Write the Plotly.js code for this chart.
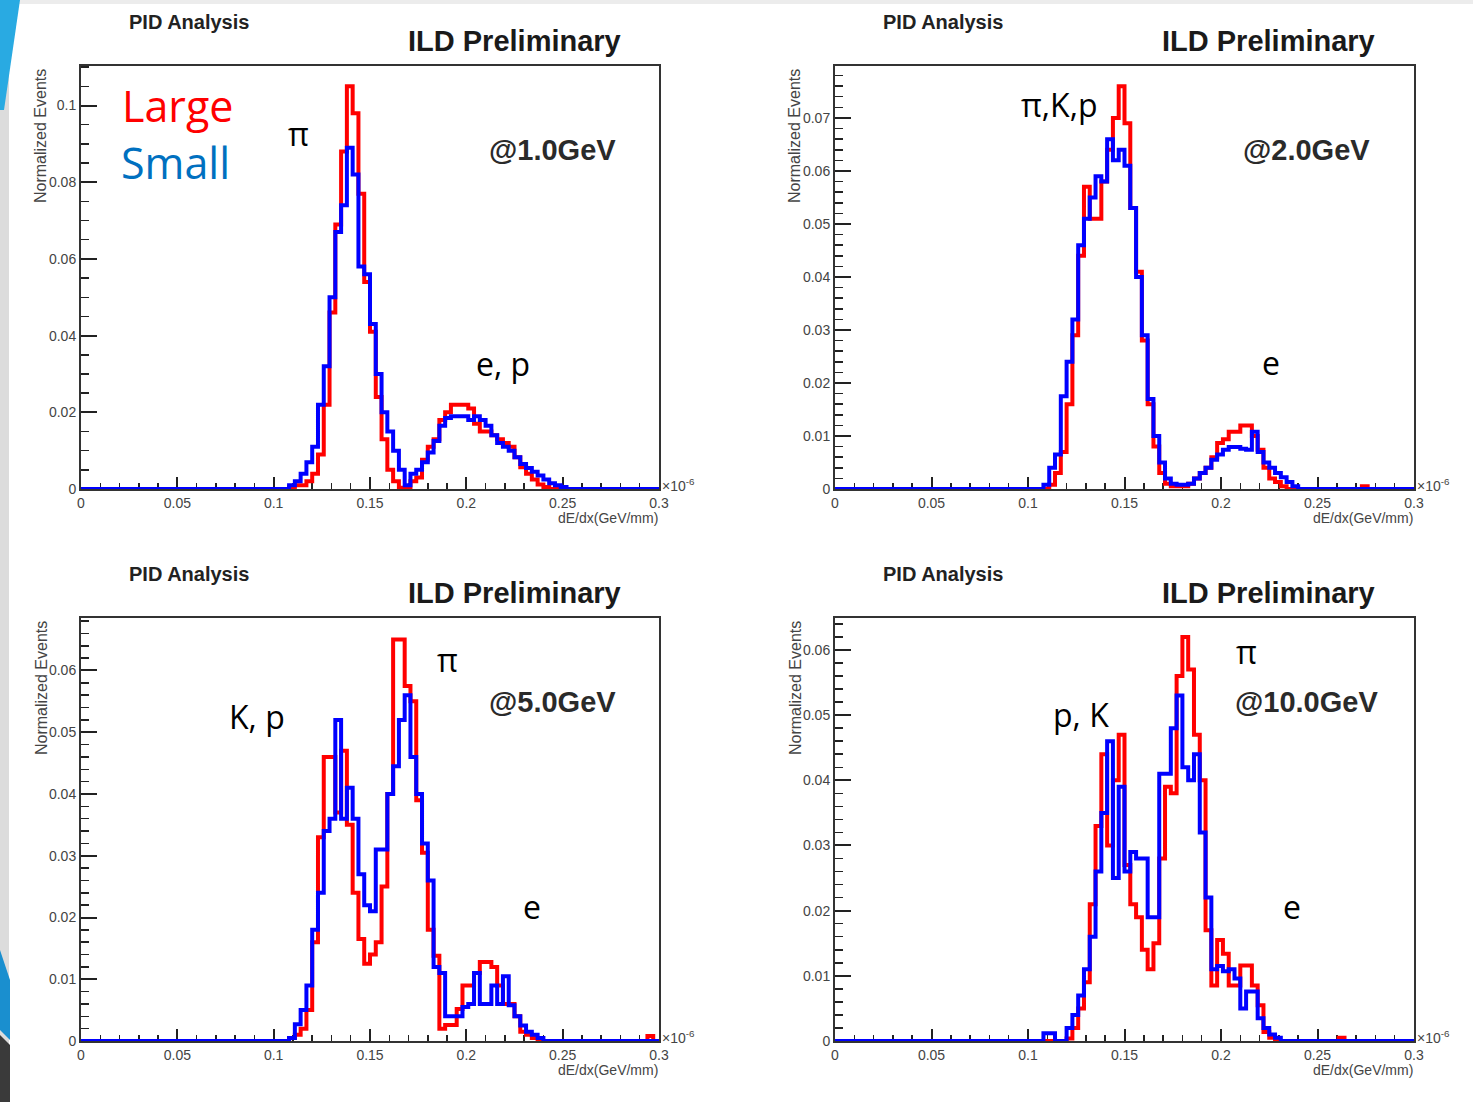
<!DOCTYPE html>
<html>
<head>
<meta charset="utf-8">
<script src="https://cdn.plot.ly/plotly-3.0.1.min.js"></script>
<style>
html,body{margin:0;padding:0;background:#fff;}
#chart{width:1473px;height:1102px;}
</style>
</head>
<body>
<div id="chart"></div>
<script>
// ---- histogram binning: 100 bins from 0 to 0.3 (x 10^-6 GeV/mm) ----
const xMin = 0, xMax = 0.3, nBins = 100;

// ---- bin contents (normalized events), index = bin number 0..99 ----
const large1GeV = [
 0,0,0,0,0,0,0,0,0,0, 0,0,0,0,0,0,0,0,0,0, 0,0,0,0,0,0,0,0,0,0,
 0,0,0,0,0,0,0.0005,0.001,0.001,0.002,
 0.004,0.009,0.022,0.046,0.069,0.088,0.105,0.098,0.077,0.054,
 0.041,0.024,0.013,0.005,0.002,0.0003,0.0003,0.002,0.003,0.0076,
 0.011,0.013,0.018,0.020,0.022,0.022,0.022,0.021,0.017,0.015,
 0.015,0.014,0.013,0.012,0.011,0.0083,0.0057,0.004,0.0025,0.0012,
 0.0005,0,0,0,0,0,0,0,0,0, 0,0,0,0,0,0,0,0,0,0];
const small1GeV = [
 0,0,0,0,0,0,0,0,0,0, 0,0,0,0,0,0,0,0,0,0, 0,0,0,0,0,0,0,0,0,0,
 0,0,0,0,0,0,0.001,0.002,0.004,0.007,
 0.011,0.022,0.032,0.050,0.067,0.074,0.089,0.082,0.058,0.056,
 0.043,0.030,0.020,0.015,0.010,0.005,0.001,0.004,0.005,0.007,
 0.0095,0.0125,0.0165,0.0185,0.019,0.019,0.019,0.018,0.019,0.018,
 0.0165,0.014,0.012,0.011,0.010,0.0083,0.0065,0.0055,0.0045,0.0035,
 0.0025,0.0015,0.001,0.0005,0,0,0,0,0,0, 0,0,0,0,0,0,0,0,0,0];

const large2GeV = [
 0,0,0,0,0,0,0,0,0,0, 0,0,0,0,0,0,0,0,0,0, 0,0,0,0,0,0,0,0,0,0,
 0,0,0,0,0,0,0,0.0008,0.003,0.007,
 0.016,0.029,0.044,0.057,0.051,0.051,0.058,0.064,0.070,0.076,
 0.069,0.053,0.041,0.028,0.016,0.008,0.003,0.001,0.0005,0.0005,
 0.0005,0.001,0.002,0.003,0.004,0.006,0.0087,0.0094,0.0108,0.0108,
 0.012,0.012,0.010,0.0074,0.004,0.002,0.0013,0.0005,0,0,
 0,0,0,0,0,0,0,0,0,0, 0,0.0005,0,0,0,0,0,0,0,0];
const small2GeV = [
 0,0,0,0,0,0,0,0,0,0, 0,0,0,0,0,0,0,0,0,0, 0,0,0,0,0,0,0,0,0,0,
 0,0,0,0,0,0,0.0008,0.004,0.0065,0.0175,
 0.024,0.032,0.046,0.051,0.055,0.059,0.058,0.066,0.062,0.064,
 0.061,0.053,0.040,0.029,0.017,0.010,0.005,0.002,0.001,0.0008,
 0.0008,0.001,0.002,0.003,0.004,0.0055,0.0065,0.0074,0.0079,0.0079,
 0.0076,0.0074,0.0108,0.007,0.005,0.004,0.003,0.0022,0.0013,0.0005,
 0,0,0,0,0,0,0,0,0,0, 0,0,0,0,0,0,0,0,0,0];

const large5GeV = [
 0,0,0,0,0,0,0,0,0,0, 0,0,0,0,0,0,0,0,0,0, 0,0,0,0,0,0,0,0,0,0,
 0,0,0,0,0,0,0.0005,0.001,0.002,0.005,
 0.016,0.033,0.046,0.046,0.037,0.047,0.035,0.024,0.0165,0.0125,
 0.014,0.016,0.025,0.040,0.065,0.065,0.0575,0.055,0.039,0.0305,
 0.018,0.0138,0.002,0.0026,0.0026,0.0052,0.009,0.009,0.011,0.0128,
 0.0128,0.012,0.009,0.006,0.006,0.004,0.0015,0.001,0.0005,0,
 0,0,0,0,0,0,0,0,0,0, 0,0,0,0,0,0,0,0,0.0008,0];
const small5GeV = [
 0,0,0,0,0,0,0,0,0,0, 0,0,0,0,0,0,0,0,0,0, 0,0,0,0,0,0,0,0,0,0,
 0,0,0,0,0,0,0.0005,0.0027,0.005,0.009,
 0.018,0.024,0.034,0.036,0.052,0.036,0.041,0.036,0.027,0.022,
 0.021,0.031,0.031,0.040,0.0445,0.052,0.056,0.046,0.040,0.032,
 0.026,0.012,0.011,0.004,0.004,0.004,0.0055,0.006,0.011,0.006,
 0.006,0.009,0.006,0.0105,0.0058,0.004,0.0025,0.0015,0.001,0.0005,
 0,0,0,0,0,0,0,0,0,0, 0,0,0,0,0,0,0,0,0,0];

const large10GeV = [
 0,0,0,0,0,0,0,0,0,0, 0,0,0,0,0,0,0,0,0,0, 0,0,0,0,0,0,0,0,0,0,
 0,0,0,0,0,0,0,0,0,0,
 0.0004,0.002,0.005,0.009,0.021,0.033,0.044,0.030,0.040,0.047,
 0.027,0.021,0.019,0.014,0.011,0.015,0.028,0.039,0.038,0.056,
 0.062,0.057,0.047,0.040,0.017,0.0085,0.0155,0.0134,0.0085,0.0085,
 0.0116,0.0116,0.0085,0.0055,0.0014,0.0005,0,0,0,0,
 0,0,0,0,0,0,0,0.0005,0,0, 0,0,0,0,0,0,0,0,0,0];
const small10GeV = [
 0,0,0,0,0,0,0,0,0,0, 0,0,0,0,0,0,0,0,0,0, 0,0,0,0,0,0,0,0,0,0,
 0,0,0,0,0,0,0.0012,0.0012,0,0,
 0.002,0.004,0.007,0.011,0.016,0.026,0.035,0.046,0.025,0.039,
 0.026,0.029,0.028,0.028,0.019,0.019,0.041,0.041,0.048,0.053,
 0.042,0.040,0.044,0.032,0.022,0.011,0.0115,0.0107,0.011,0.0096,
 0.005,0.0076,0.0076,0.0035,0.002,0.001,0.0005,0,0,0,
 0,0,0,0,0,0,0,0,0,0, 0,0,0,0,0,0,0,0,0,0];

// ---- panel descriptions ----
const energies = ["@1.0GeV", "@2.0GeV", "@5.0GeV", "@10.0GeV"];
const largeSeries = [large1GeV, large2GeV, large5GeV, large10GeV];
const smallSeries = [small1GeV, small2GeV, small5GeV, small10GeV];
const yMaxima = [0.1103, 0.0798, 0.0685, 0.0649];
const yMajor = [0.02, 0.01, 0.01, 0.01];
const yMinor = [0.005, 0.002, 0.002, 0.002];
const xTickMajor = 0.05, xTickMinor = 0.01;

// ---- page geometry (pixels) ----
const W = 1473, H = 1102;
const frames = [ // left, right, top, bottom
  [81, 659, 66, 489],
  [835, 1414, 66, 489],
  [81, 659, 618, 1041],
  [835, 1414, 618, 1041]
];
const px = x => x / W;
const py = y => 1 - y / H;

const edges = [];
for (let i = 0; i <= nBins; i++) edges.push(xMin + (xMax - xMin) * i / nBins);

const traces = [];
const layout = {
  width: W, height: H,
  margin: {l: 0, r: 0, t: 0, b: 0},
  paper_bgcolor: '#ffffff', plot_bgcolor: '#ffffff',
  showlegend: false,
  font: {family: 'Liberation Sans, Arial, sans-serif', color: '#333'},
  annotations: [],
  shapes: []
};

const tickFont = {family: 'Liberation Sans, Arial, sans-serif', size: 14, color: '#444'};

frames.forEach((f, i) => {
  const n = i === 0 ? '' : String(i + 1);
  const xa = 'xaxis' + n, ya = 'yaxis' + n;
  const xr = 'x' + n, yr = 'y' + n;
  const steps = s => s.concat([s[s.length - 1]]);
  traces.push({
    type: 'scatter', mode: 'lines', x: edges, y: steps(largeSeries[i]),
    xaxis: xr, yaxis: yr, line: {color: '#ff0000', width: 4, shape: 'hv'},
    cliponaxis: false, hoverinfo: 'skip'
  });
  traces.push({
    type: 'scatter', mode: 'lines', x: edges, y: steps(smallSeries[i]),
    xaxis: xr, yaxis: yr, line: {color: '#0000ff', width: 4, shape: 'hv'},
    cliponaxis: false, hoverinfo: 'skip'
  });
  layout[xa] = {
    domain: [px(f[0]), px(f[1])], anchor: yr, range: [xMin, xMax],
    tick0: 0, dtick: xTickMajor, ticks: 'inside', ticklen: 12, tickwidth: 2, tickcolor: '#222',
    minor: {dtick: xTickMinor, ticks: 'inside', ticklen: 6, tickwidth: 1.5, tickcolor: '#222', showgrid: false},
    showline: true, linecolor: '#333', linewidth: 2, mirror: true,
    showgrid: false, zeroline: false, tickfont: tickFont, layer: 'below traces',
    fixedrange: true
  };
  layout[ya] = {
    domain: [py(f[3]), py(f[2])], anchor: xr, range: [0, yMaxima[i]],
    tick0: 0, dtick: yMajor[i], ticks: 'inside', ticklen: 16, tickwidth: 2, tickcolor: '#222',
    minor: {dtick: yMinor[i], ticks: 'inside', ticklen: 8, tickwidth: 1.5, tickcolor: '#222', showgrid: false},
    showline: true, linecolor: '#333', linewidth: 2, mirror: true,
    showgrid: false, zeroline: false, tickfont: tickFont, layer: 'below traces',
    fixedrange: true
  };

  const A = layout.annotations;
  const L = f[0], R = f[1], T = f[2], B = f[3];
  // header texts
  A.push({text: '<b>PID Analysis</b>', x: px(L + 108), y: py(T - 44), xref: 'paper', yref: 'paper',
    xanchor: 'center', yanchor: 'middle', showarrow: false,
    font: {family: 'Liberation Sans, Arial, sans-serif', size: 20, color: '#222'}});
  A.push({text: '<b>ILD Preliminary</b>', x: px(L + 433), y: py(T - 25), xref: 'paper', yref: 'paper',
    xanchor: 'center', yanchor: 'middle', showarrow: false,
    font: {family: 'Liberation Sans, Arial, sans-serif', size: 29, color: '#1a1a1a'}});
  A.push({text: '<b>' + energies[i] + '</b>', x: px(L + 471), y: py(T + 84), xref: 'paper', yref: 'paper',
    xanchor: 'center', yanchor: 'middle', showarrow: false,
    font: {family: 'Liberation Sans, Arial, sans-serif', size: 29, color: '#2a2a2a'}});
  // axis titles
  A.push({text: 'Normalized Events', x: px(L - 40), y: py(T + 70), xref: 'paper', yref: 'paper',
    xanchor: 'center', yanchor: 'middle', textangle: -90, showarrow: false,
    font: {family: 'Liberation Sans, Arial, sans-serif', size: 16, color: '#444'}});
  A.push({text: 'dE/dx(GeV/mm)', x: px(R + 1), y: py(B + 29), xref: 'paper', yref: 'paper',
    xanchor: 'right', yanchor: 'middle', showarrow: false,
    font: {family: 'Liberation Sans, Arial, sans-serif', size: 14, color: '#444'}});
  A.push({text: '×10<sup>-6</sup>', x: px(R + 1), y: py(B - 4), xref: 'paper', yref: 'paper',
    xanchor: 'left', yanchor: 'middle', showarrow: false,
    font: {family: 'Liberation Sans, Arial, sans-serif', size: 14, color: '#444'}});
});

// particle labels and legend words
const labelFont = (sz, c) => ({family: 'Open Sans, Noto Sans, sans-serif', size: sz, color: c});
const particleLabels = [
  {t: 'π', x: 298, y: 134}, {t: 'e, p', x: 503, y: 364},
  {t: 'π,K,p', x: 1059, y: 104}, {t: 'e', x: 1271, y: 362},
  {t: 'K, p', x: 257, y: 716}, {t: 'π', x: 448, y: 659}, {t: 'e', x: 532, y: 906},
  {t: 'p, K', x: 1081, y: 714}, {t: 'π', x: 1246, y: 651}, {t: 'e', x: 1292, y: 906}
];
particleLabels.forEach(p => layout.annotations.push({
  text: p.t, x: px(p.x), y: py(p.y), xref: 'paper', yref: 'paper',
  xanchor: 'center', yanchor: 'middle', showarrow: false, font: labelFont(32, '#000')
}));
layout.annotations.push({text: 'Large', x: px(120), y: py(106), xref: 'paper', yref: 'paper',
  xanchor: 'left', yanchor: 'middle', showarrow: false, font: labelFont(43, '#ff0000')});
layout.annotations.push({text: 'Small', x: px(119), y: py(162), xref: 'paper', yref: 'paper',
  xanchor: 'left', yanchor: 'middle', showarrow: false, font: labelFont(43, '#0070c0')});

// slide decoration at page edges
layout.shapes.push({type: 'rect', xref: 'paper', yref: 'paper', x0: 0, x1: 1, y0: py(4), y1: 1,
  fillcolor: '#ececec', line: {width: 0}, layer: 'below'});
layout.shapes.push({type: 'rect', xref: 'paper', yref: 'paper', x0: 0, x1: px(9), y0: 0, y1: 1,
  fillcolor: '#dcdcdc', line: {width: 0}, layer: 'below'});
layout.shapes.push({type: 'path', xref: 'paper', yref: 'paper',
  path: `M 0 ${py(0)} L ${px(20)} ${py(0)} L ${px(4)} ${py(110)} L 0 ${py(110)} Z`,
  fillcolor: '#29aae2', line: {width: 0}, layer: 'below'});
layout.shapes.push({type: 'path', xref: 'paper', yref: 'paper',
  path: `M 0 ${py(950)} L ${px(10)} ${py(980)} L ${px(10)} ${py(1040)} L 0 ${py(1030)} Z`,
  fillcolor: '#1a8fcf', line: {width: 0}, layer: 'below'});
layout.shapes.push({type: 'path', xref: 'paper', yref: 'paper',
  path: `M 0 ${py(1035)} L ${px(10)} ${py(1045)} L ${px(10)} ${py(1102)} L 0 ${py(1102)} Z`,
  fillcolor: '#3a3a3a', line: {width: 0}, layer: 'below'});

Plotly.newPlot('chart', traces, layout, {displayModeBar: false, staticPlot: true});
</script>
</body>
</html>
